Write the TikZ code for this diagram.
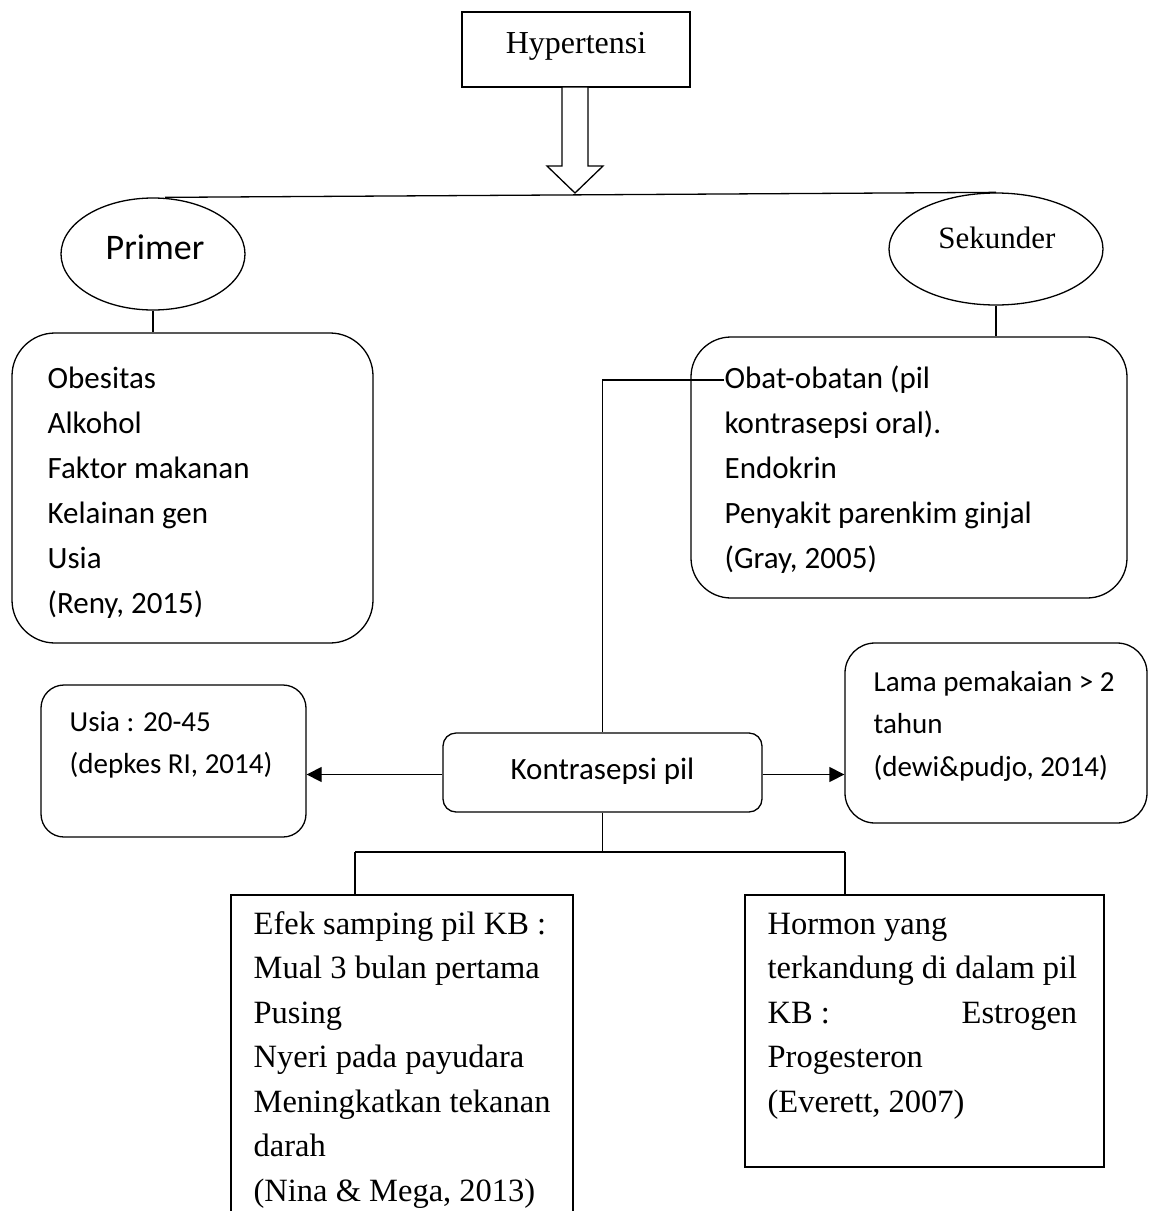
\documentclass[tikz,border=0pt]{standalone}
\usepackage{fontspec}
\setmainfont{Liberation Serif}
\newfontfamily\calfont{Carlito}
\usetikzlibrary{arrows.meta,shapes.geometric}
\newlength\hormonwd
\begin{document}
\begin{tikzpicture}[x=1pt,y=-1pt,line width=1.3pt,
  rbox/.style={draw,rounded corners=#1,inner sep=0pt},
  sbox/.style={draw,inner sep=0pt},
  oval/.style={draw,ellipse,inner sep=0pt},
  txt/.style={inner sep=0pt,anchor=base west},
  ctxt/.style={inner sep=0pt,anchor=base},
  calA/.style={font=\calfont\fontsize{31}{45}\selectfont},
  calB/.style={font=\calfont\fontsize{29}{42.5}\selectfont},
  serA/.style={font=\fontsize{32.5}{44.5}\selectfont},
  tip/.style={-{Triangle[length=15pt,width=15pt]}}]
\useasboundingbox (0,0) rectangle (1149,1211);
\clip (0,0) rectangle (1149,1211);

% top box
\node[sbox,minimum width=228pt,minimum height=75pt] (hyp) at (576,49.5) {};
\node[ctxt,font=\fontsize{32}{38}\selectfont] (hyptext) at (576,53) {Hypertensi};

% hollow block arrow
\draw[fill=white] (562,87) -- (562,166) -- (547,166) -- (575,193) -- (603,166) -- (588,166) -- (588,87) -- cycle;

% ellipses
\node[oval,minimum width=184pt,minimum height=112pt] (primer) at (153,254) {};
\node[ctxt,font=\calfont\fontsize{36}{42}\selectfont] (primertext) at (155,259) {Primer};
\node[oval,minimum width=214pt,minimum height=112pt] (sekunder) at (996,249) {};
\node[ctxt,font=\fontsize{31}{36}\selectfont] (sekundertext) at (997,248) {Sekunder};

\draw (primer.north) ++(12,0) coordinate (ptop) -- (sekunder.north);

% primer box
\node[rbox=43pt,minimum width=361pt,minimum height=310pt] (pbox) at (192.5,488) {};
\node[txt,calA] (ptext) at (47,388) {\vtop{\hbox{Obesitas}\hbox{Alkohol}\hbox{Faktor makanan}\hbox{Kelainan gen}\hbox{Usia}\hbox{(Reny, 2015)}}};
\draw (primer.south) -- (primer.south |- pbox.north);

% sekunder box
\node[rbox=40pt,minimum width=436pt,minimum height=261pt] (skbox) at (909,467.5) {};
\node[txt,calA] (stext) at (724,388) {\vtop{\hbox{Obat-obatan (pil}\hbox{kontrasepsi oral).}\hbox{Endokrin}\hbox{Penyakit parenkim ginjal}\hbox{(Gray, 2005)}}};
\draw (sekunder.south) -- (sekunder.south |- skbox.north);

% kontrasepsi pil
\node[rbox=13pt,minimum width=319pt,minimum height=79pt] (kp) at (602.5,772.5) {};
\node[ctxt,calA] (kptext) at (602.5,779) {Kontrasepsi pil};
\coordinate (obat) at (724,380);
\draw (obat) -| (kp.north);

% usia box
\node[rbox=23pt,minimum width=265pt,minimum height=152pt] (usia) at (173.5,761) {};
\node[txt,calB] (usiatext) at (69,731) {\vtop{\hbox{Usia : 20-45}\hbox{(depkes RI, 2014)}}};
\draw[tip] (kp.west) ++(0,2) coordinate (kpw) -- (kpw -| usia.east);

% lama box
\node[rbox=30pt,minimum width=302pt,minimum height=180pt] (lama) at (996,733) {};
\node[txt,calB] (lamatext) at (873,691) {\vtop{\hbox{Lama pemakaian > 2}\hbox{tahun}\hbox{(dewi\&pudjo, 2014)}}};
\draw[tip] (kp.east) ++(0,2) coordinate (kpe) -- (kpe -| lama.west);

% bottom tree
\coordinate (bl) at (355,852);
\coordinate (br) at (845,852);
\node[sbox,minimum width=342pt,minimum height=340pt] (efek) at (402,1065) {};
\node[sbox,minimum width=359pt,minimum height=272pt] (hormon) at (924.5,1031) {};
\draw (kp.south) -- (kp.south |- bl);
\draw (bl) -- (br);
\draw (bl) -- (bl |- efek.north);
\draw (br) -- (br |- hormon.north);

\node[txt,serA] (efektext) at (253,934) {\vtop{\hbox{Efek samping pil KB :}\hbox{Mual 3 bulan pertama}\hbox{Pusing}\hbox{Nyeri pada payudara}\hbox{Meningkatkan tekanan}\hbox{darah}\hbox{(Nina \& Mega, 2013)}}};
\node[txt,serA] (hormontext) at (767,934) {\settowidth\hormonwd{terkandung di dalam pil}\vtop{\hbox{Hormon yang}\hbox{terkandung di dalam pil}\hbox to \hormonwd{KB :\hfill Estrogen}\hbox{Progesteron}\hbox{(Everett, 2007)}}};
\end{tikzpicture}
\end{document}
